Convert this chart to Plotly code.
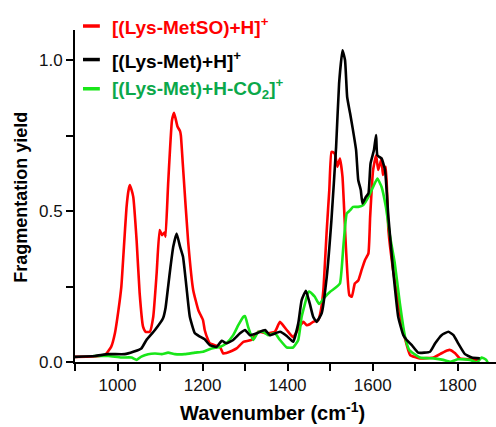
import plotly.graph_objects as go

# ---- data ----
red_x = [900, 940, 970, 985, 994, 1002, 1009, 1015, 1021, 1026, 1029, 1033, 1037, 1045, 1052, 1060, 1066, 1076,
         1084, 1092, 1099, 1105, 1111, 1113, 1119, 1128, 1133, 1141, 1147, 1149, 1154, 1166, 1178, 1190, 1201,
         1205, 1213, 1217, 1230, 1241, 1248, 1256, 1264, 1280, 1296, 1315, 1331, 1351, 1370, 1382, 1398, 1413,
         1429, 1437, 1445, 1452, 1460, 1472, 1478, 1484, 1492, 1498, 1503, 1507, 1511, 1517, 1523, 1529, 1537,
         1545, 1551, 1558, 1566, 1574, 1582, 1590, 1594, 1601, 1608, 1613, 1621, 1624, 1631, 1637, 1648, 1664,
         1676, 1688, 1711, 1743, 1762, 1775, 1782, 1794, 1805, 1829, 1852]
red_y = [0.017, 0.018, 0.023, 0.05, 0.096, 0.17, 0.25, 0.38, 0.51, 0.57, 0.586, 0.57, 0.547, 0.40, 0.228, 0.117,
         0.10, 0.10, 0.15, 0.294, 0.437, 0.42, 0.43, 0.415, 0.59, 0.80, 0.826, 0.78, 0.765, 0.75, 0.646, 0.40,
         0.238, 0.172, 0.139, 0.106, 0.073, 0.062, 0.055, 0.05, 0.029, 0.03, 0.034, 0.045, 0.067, 0.073, 0.10,
         0.095, 0.10, 0.133, 0.106, 0.082, 0.12, 0.133, 0.122, 0.125, 0.133, 0.139, 0.17, 0.238, 0.437, 0.57,
         0.696, 0.695, 0.69, 0.647, 0.674, 0.614, 0.382, 0.222, 0.216, 0.26, 0.27, 0.305, 0.338, 0.36, 0.48,
         0.636, 0.685, 0.636, 0.674, 0.62, 0.647, 0.437, 0.305, 0.162, 0.078, 0.023, 0.012, 0.015, 0.029, 0.038,
         0.04, 0.029, 0.012, 0.009, 0.007]

black_x = [900, 947, 978, 1017, 1037, 1056, 1068, 1088, 1107, 1113, 1119, 1125, 1131, 1139, 1147, 1154, 1162,
           1170, 1182, 1194, 1205, 1217, 1233, 1245, 1256, 1272, 1288, 1300, 1311, 1327, 1347, 1358, 1382, 1398,
           1413, 1425, 1433, 1443, 1452, 1460, 1468, 1480, 1492, 1503, 1514, 1521, 1529, 1535, 1540, 1547, 1553,
           1561, 1566, 1572, 1576, 1584, 1590, 1595, 1603, 1608, 1611, 1621, 1629, 1637, 1648, 1660, 1672, 1680,
           1692, 1707, 1735, 1747, 1762, 1778, 1790, 1801, 1817, 1833, 1852]
black_y = [0.017, 0.02, 0.026, 0.026, 0.034, 0.045, 0.073, 0.106, 0.145, 0.18, 0.25, 0.32, 0.382, 0.426, 0.382,
           0.349, 0.25, 0.15, 0.095, 0.084, 0.075, 0.056, 0.05, 0.07, 0.062, 0.073, 0.095, 0.106, 0.089, 0.095,
           0.106, 0.089, 0.10, 0.086, 0.067, 0.128, 0.205, 0.236, 0.194, 0.15, 0.133, 0.161, 0.282, 0.47, 0.713,
           0.922, 1.033, 1.0, 0.878, 0.823, 0.774, 0.702, 0.603, 0.57, 0.525, 0.547, 0.558, 0.658, 0.702, 0.752,
           0.685, 0.674, 0.636, 0.48, 0.305, 0.15, 0.089, 0.073, 0.056, 0.031, 0.034, 0.062, 0.089, 0.10, 0.089,
           0.062, 0.026, 0.015, 0.012]

green_x = [943, 978, 1009, 1033, 1045, 1056, 1072, 1088, 1104, 1119, 1135, 1158, 1182, 1201, 1221, 1241, 1256,
           1272, 1284, 1296, 1300, 1307, 1319, 1331, 1342, 1354, 1370, 1382, 1398, 1413, 1425, 1433, 1441, 1448,
           1452, 1464, 1474, 1488, 1500, 1511, 1523, 1531, 1539, 1547, 1554, 1566, 1578, 1590, 1601, 1611, 1621,
           1631, 1641, 1652, 1664, 1676, 1686, 1711, 1743, 1766, 1782, 1801, 1829, 1845, 1856, 1867, 1876, 1884]
green_y = [0.02, 0.02, 0.015, 0.015, 0.007, 0.018, 0.026, 0.028, 0.026, 0.031, 0.026, 0.026, 0.031, 0.034, 0.045,
           0.05, 0.062, 0.089, 0.122, 0.15, 0.152, 0.117, 0.073, 0.10, 0.10, 0.089, 0.095, 0.073, 0.048, 0.048,
           0.073, 0.15, 0.194, 0.23, 0.233, 0.216, 0.192, 0.216, 0.233, 0.244, 0.26, 0.382, 0.492, 0.503, 0.514,
           0.514, 0.52, 0.547, 0.58, 0.608, 0.58, 0.514, 0.415, 0.327, 0.194, 0.084, 0.04, 0.015, 0.012, 0.007,
           0.001, 0.009, 0.007, -0.002, 0.015, 0.007, -0.018, -0.03]

x_tickvals = [900, 1000, 1100, 1200, 1300, 1400, 1500, 1600, 1700, 1800]
x_ticktext = ["", "1000", "", "1200", "", "1400", "", "1600", "", "1800"]
y_tickvals = [0, 0.25, 0.5, 0.75, 1.0]
y_ticktext = ["0.0", "", "0.5", "", "1.0"]

series_names = ["[(Lys-MetSO)+H]<sup>+</sup>", "[(Lys-Met)+H]<sup>+</sup>",
                "[(Lys-Met)+H-CO<sub>2</sub>]<sup>+</sup>"]
line_colors = ["#FF0000", "#000000", "#19E619"]
text_colors = ["#FF0000", "#000000", "#0BA84A"]

FONT = "Liberation Sans, Arial, sans-serif"

fig = go.Figure()
for xs, ys, c, n in [(red_x, red_y, line_colors[0], series_names[0]),
                     (green_x, green_y, line_colors[2], series_names[2]),
                     (black_x, black_y, line_colors[1], series_names[1])]:
    fig.add_trace(go.Scatter(x=xs, y=ys, mode="lines", name=n,
                             line=dict(color=c, width=2.6, shape="spline", smoothing=0.4)))

# legend as annotations + short line swatches
leg_y = [1.012, 0.911, 0.823]
for i in range(3):
    fig.add_shape(type="line", xref="paper", yref="paper", x0=0.019, x1=0.059,
                  y0=leg_y[i], y1=leg_y[i], line=dict(color=line_colors[i], width=3.5))
    fig.add_annotation(xref="paper", yref="paper", x=0.082, y=leg_y[i], xanchor="left", yanchor="middle",
                       text="<b>" + series_names[i] + "</b>", showarrow=False,
                       font=dict(family=FONT, size=19, color=text_colors[i]))

fig.add_annotation(xref="paper", yref="paper", x=0.468, y=-0.15, xanchor="center", yanchor="middle",
                   text="<b>Wavenumber (cm<sup>-1</sup>)</b>", showarrow=False,
                   font=dict(family=FONT, size=20, color="black"))
fig.add_annotation(xref="paper", yref="paper", x=-0.128, y=0.495, xanchor="center", yanchor="middle",
                   text="<b>Fragmentation yield</b>", showarrow=False, textangle=-90,
                   font=dict(family=FONT, size=18, color="black"))

fig.update_layout(
    width=496, height=427,
    margin=dict(l=75, r=0, t=30, b=65),
    plot_bgcolor="white", paper_bgcolor="white",
    showlegend=False,
    font=dict(family=FONT, size=17, color="black"),
    xaxis=dict(range=[900, 1890], tickvals=x_tickvals, ticktext=x_ticktext,
               showgrid=False, zeroline=False, showline=True, linecolor="black", linewidth=2,
               ticks="outside", ticklen=7, tickwidth=2, tickcolor="black",
               tickfont=dict(family=FONT, size=17, color="#111111")),
    yaxis=dict(range=[0, 1.1], tickvals=y_tickvals, ticktext=y_ticktext,
               showgrid=False, zeroline=False, showline=True, linecolor="black", linewidth=2,
               ticks="outside", ticklen=7, tickwidth=2, tickcolor="black",
               tickfont=dict(family=FONT, size=17, color="#111111")),
)

fig.write_html("out.html")
